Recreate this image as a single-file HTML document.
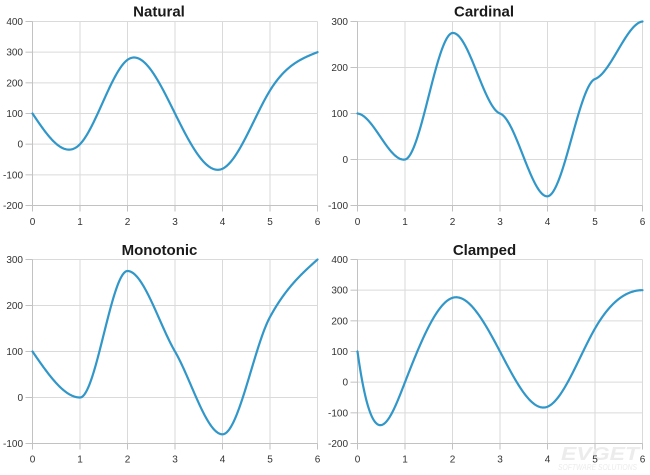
<!DOCTYPE html>
<html><head><meta charset="utf-8">
<style>
html,body{margin:0;padding:0;background:#fff;}
svg{display:block}
text{font-family:"Liberation Sans",Arial,sans-serif}
.yl{font-size:10px;fill:#333;text-anchor:end}
.xl{font-size:10px;fill:#333;text-anchor:middle}
.tt{font-size:15px;font-weight:bold;fill:#1a1a1a;text-anchor:middle}
</style></head><body>
<svg id="s" width="650" height="475" xmlns="http://www.w3.org/2000/svg">
<g id="wm" font-style="italic" fill="#ececec">
<text x="561" y="460" font-size="18" font-weight="bold" textLength="78" lengthAdjust="spacingAndGlyphs">EVGET</text>
<text x="558" y="470" font-size="8.5" textLength="79" lengthAdjust="spacingAndGlyphs">SOFTWARE SOLUTIONS</text>
</g>
<g id="grid"></g>
<g id="curves"></g>
<!-- Titles -->
<text class="tt" x="159" y="16.5">Natural</text>
<text class="tt" x="484" y="16.5">Cardinal</text>
<text class="tt" x="159.5" y="255">Monotonic</text>
<text class="tt" x="484.5" y="255">Clamped</text>
<!-- Panel A y labels -->
<text class="yl" x="23" y="25">400</text>
<text class="yl" x="23" y="55.7">300</text>
<text class="yl" x="23" y="86.3">200</text>
<text class="yl" x="23" y="117">100</text>
<text class="yl" x="23" y="147.7">0</text>
<text class="yl" x="23" y="178.3">-100</text>
<text class="yl" x="23" y="209">-200</text>
<!-- Panel B y labels -->
<text class="yl" x="348" y="25">300</text>
<text class="yl" x="348" y="71">200</text>
<text class="yl" x="348" y="117">100</text>
<text class="yl" x="348" y="163">0</text>
<text class="yl" x="348" y="209">-100</text>
<!-- Panel C y labels -->
<text class="yl" x="23" y="263">300</text>
<text class="yl" x="23" y="309">200</text>
<text class="yl" x="23" y="355">100</text>
<text class="yl" x="23" y="401">0</text>
<text class="yl" x="23" y="447">-100</text>
<!-- Panel D y labels -->
<text class="yl" x="348" y="263">400</text>
<text class="yl" x="348" y="293.7">300</text>
<text class="yl" x="348" y="324.3">200</text>
<text class="yl" x="348" y="355">100</text>
<text class="yl" x="348" y="385.7">0</text>
<text class="yl" x="348" y="416.3">-100</text>
<text class="yl" x="348" y="447">-200</text>
<!-- x labels top-left -->
<text class="xl" x="32.5" y="225">0</text>
<text class="xl" x="80" y="225">1</text>
<text class="xl" x="127.5" y="225">2</text>
<text class="xl" x="175" y="225">3</text>
<text class="xl" x="222.5" y="225">4</text>
<text class="xl" x="270" y="225">5</text>
<text class="xl" x="317.5" y="225">6</text>
<!-- x labels top-right -->
<text class="xl" x="357.5" y="225">0</text>
<text class="xl" x="405" y="225">1</text>
<text class="xl" x="452.5" y="225">2</text>
<text class="xl" x="500" y="225">3</text>
<text class="xl" x="547.5" y="225">4</text>
<text class="xl" x="595" y="225">5</text>
<text class="xl" x="642.5" y="225">6</text>
<!-- x labels bottom-left -->
<text class="xl" x="32.5" y="462.5">0</text>
<text class="xl" x="80" y="462.5">1</text>
<text class="xl" x="127.5" y="462.5">2</text>
<text class="xl" x="175" y="462.5">3</text>
<text class="xl" x="222.5" y="462.5">4</text>
<text class="xl" x="270" y="462.5">5</text>
<text class="xl" x="317.5" y="462.5">6</text>
<!-- x labels bottom-right -->
<text class="xl" x="357.5" y="462.5">0</text>
<text class="xl" x="405" y="462.5">1</text>
<text class="xl" x="452.5" y="462.5">2</text>
<text class="xl" x="500" y="462.5">3</text>
<text class="xl" x="547.5" y="462.5">4</text>
<text class="xl" x="595" y="462.5">5</text>
<text class="xl" x="642.5" y="462.5">6</text>
</svg>
<script>
(function(){
var NS="http://www.w3.org/2000/svg";
var Y=[100,0,275,100,-80,175,300];
function hermite(m){
  return function(x){
    var i=Math.min(Math.floor(x),5); var t=x-i; var t2=t*t,t3=t2*t;
    return (2*t3-3*t2+1)*Y[i]+(t3-2*t2+t)*m[i]+(-2*t3+3*t2)*Y[i+1]+(t3-t2)*m[i+1];
  };
}
function solveTri(a,b,c,d){
  var n=d.length,cp=[],dp=[];
  cp[0]=c[0]/b[0]; dp[0]=d[0]/b[0];
  for(var i=1;i<n;i++){var den=b[i]-a[i]*cp[i-1]; cp[i]=c[i]/den; dp[i]=(d[i]-a[i]*dp[i-1])/den;}
  var x=[]; x[n-1]=dp[n-1];
  for(var j=n-2;j>=0;j--) x[j]=dp[j]-cp[j]*x[j+1];
  return x;
}
var a=[0,1,1,1,1,1,1],b=[2,4,4,4,4,4,2],c=[1,1,1,1,1,1,0],d=[];
d[0]=3*(Y[1]-Y[0]); for(var i=1;i<6;i++) d[i]=3*(Y[i+1]-Y[i-1]); d[6]=3*(Y[6]-Y[5]);
var mNat=solveTri(a,b,c,d);
var a2=[0,1,1,1,1,1,0],b2=[1,4,4,4,4,4,1],c2=[0,1,1,1,1,1,0],d2=d.slice();
d2[0]=-1120; d2[6]=0;
var mCl=solveTri(a2,b2,c2,d2);
var mCard=[-10,17.5,10,-35.5,7.5,38,12.5];
var mMono=[-150,0,0,-177.5,0,190,92.5];

var panels=[
 {x0:32.5,x1:317.5,y0:21.5,y1:205.5,vmax:400,vmin:-200,m:mNat},
 {x0:357.5,x1:642.5,y0:21.5,y1:205.5,vmax:300,vmin:-100,m:mCard},
 {x0:32.5,x1:317.5,y0:259.5,y1:443.5,vmax:300,vmin:-100,m:mMono},
 {x0:357.5,x1:642.5,y0:259.5,y1:443.5,vmax:400,vmin:-200,m:mCl}
];
var grid=document.getElementById("grid"),curves=document.getElementById("curves");
function line(x1,y1,x2,y2,col){
  var l=document.createElementNS(NS,"line");
  l.setAttribute("x1",x1);l.setAttribute("y1",y1);l.setAttribute("x2",x2);l.setAttribute("y2",y2);
  l.setAttribute("stroke",col);l.setAttribute("stroke-width","1");
  grid.appendChild(l);
}
panels.forEach(function(p){
  var GC="#dadada",AC="#c2c2c2";
  var ny=(p.vmax-p.vmin)/100;
  for(var k=0;k<=ny;k++){
    var yy=p.y0+(p.y1-p.y0)*k/ny;
    if(k<ny) line(p.x0,yy,p.x1,yy,GC);
    line(p.x0-7,yy,p.x0,yy,AC);
  }
  for(var j=0;j<=6;j++){
    var xx=p.x0+(p.x1-p.x0)*j/6;
    if(j>0) line(xx,p.y0,xx,p.y1,GC);
    line(xx,p.y1,xx,p.y1+6,AC);
  }
  line(p.x0,p.y0,p.x0,p.y1,AC);
  line(p.x0,p.y1,p.x1,p.y1,AC);
  var f=hermite(p.m),pts=[];
  for(var s=0;s<=600;s++){
    var x=s/100,v=f(x);
    var px=p.x0+(p.x1-p.x0)*x/6;
    var py=p.y0+(p.vmax-v)/(p.vmax-p.vmin)*(p.y1-p.y0);
    pts.push(px.toFixed(2)+","+py.toFixed(2));
  }
  var pl=document.createElementNS(NS,"polyline");
  pl.setAttribute("points",pts.join(" "));
  pl.setAttribute("fill","none");pl.setAttribute("stroke","#3197c9");
  pl.setAttribute("stroke-width","2.2");pl.setAttribute("stroke-linejoin","round");pl.setAttribute("stroke-linecap","round");
  curves.appendChild(pl);
});
})();
</script>
</body></html>
